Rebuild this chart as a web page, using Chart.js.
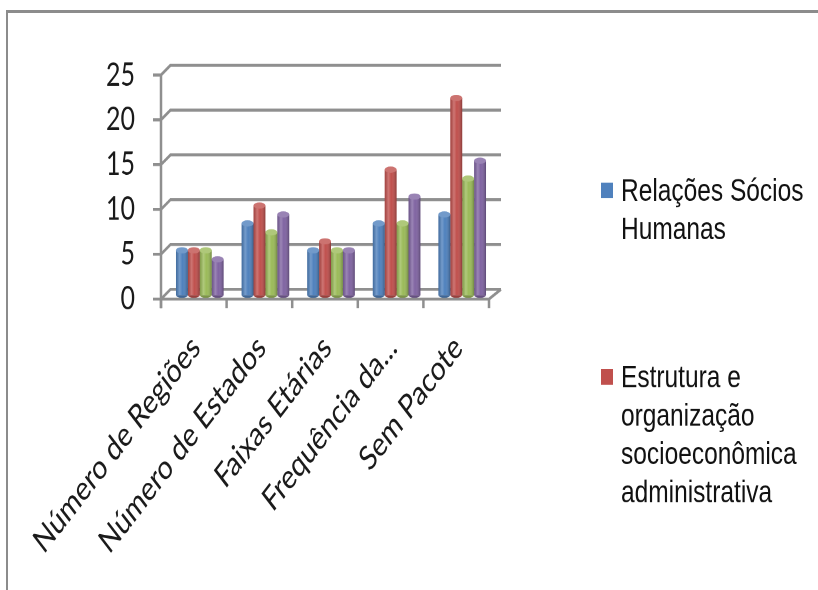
<!DOCTYPE html>
<html><head><meta charset="utf-8">
<script src="https://cdn.jsdelivr.net/npm/chart.js@4"></script>
<style>
html,body{margin:0;padding:0;background:#fff;overflow:hidden;width:818px;height:590px;}
#frame{position:absolute;left:6px;top:10px;width:900px;height:700px;border-top:3px solid #8c8c8c;border-left:2px solid #8c8c8c;}
#wrap{position:absolute;left:0;top:0;width:818px;height:454px;transform:scaleY(1.2996);transform-origin:0 0;}
</style></head><body>
<div id="frame"></div>
<div id="wrap"><canvas id="c"></canvas></div>
<script>
// ---- data ----
const categories = ['Número de Regiões', 'Número de Estados', 'Faixas Etárias', 'Frequência da...', 'Sem Pacote'];
const seriesNames = ['Relações Sócios Humanas', 'Estrutura e organização socioeconômica administrativa', 'Série 3', 'Série 4'];
const relacoesSocios = [5, 8, 5, 8, 9];
const estruturaOrganizacao = [5, 10, 6, 14, 22];
const serie3 = [5, 7, 5, 8, 13];
const serie4 = [4, 9, 5, 11, 15];
const yTicks = [0, 5, 10, 15, 20, 25];
const legendShown = 2;

// ---- styling / layout ----
const colors = ['#4F81BD', '#C0504D', '#9BBB59', '#8064A2'];
const G = { left: 161, right: 489, top: 57.7, bottom: 230.1, H: 454, W: 818,
  depthX: 9.5, depthY: -7.5, backRight: 501, barDX: 6, barDY: -3, tickLen: 8, xTickLen: 7 };

function wrapText(ctx, text, maxW) {
  const words = text.split(' '); const lines = []; let cur = '';
  words.forEach(w => {
    const t = cur ? cur + ' ' + w : w;
    if (cur && ctx.measureText(t).width > maxW) { lines.push(cur); cur = w; } else cur = t;
  });
  if (cur) lines.push(cur);
  return lines;
}

const threeD = {
  id: 'threeD',
  beforeDatasetsDraw(chart) {
    const { ctx } = chart; const y = chart.scales.y; const x = chart.scales.x;
    const L = chart.chartArea.left, R = chart.chartArea.right;
    ctx.save();
    ctx.strokeStyle = '#8f8f8f'; ctx.lineWidth = 2.3; ctx.lineJoin = 'miter';
    y.ticks.forEach(t => {
      const py = y.getPixelForValue(t.value);
      ctx.beginPath();
      ctx.moveTo(L - G.tickLen, py); ctx.lineTo(L, py);
      ctx.lineTo(L + G.depthX, py + G.depthY); ctx.lineTo(G.backRight, py + G.depthY);
      ctx.stroke();
    });
    const y0 = y.getPixelForValue(0), yTop = y.getPixelForValue(yTicks[yTicks.length - 1]);
    ctx.lineWidth = 2.5;
    ctx.beginPath(); ctx.moveTo(L, yTop); ctx.lineTo(L, y0 + G.xTickLen); ctx.stroke();
    ctx.lineWidth = 2.3;
    ctx.beginPath(); ctx.moveTo(L, y0); ctx.lineTo(R, y0); ctx.lineTo(G.backRight, y0 + G.depthY); ctx.stroke();
    ctx.lineWidth = 2.5;
    const n = categories.length;
    for (let i = 0; i <= n; i++) {
      let px;
      if (i === 0) px = L; else if (i === n) px = R;
      else px = (x.getPixelForValue(i - 1) + x.getPixelForValue(i)) / 2;
      ctx.beginPath(); ctx.moveTo(px, y0); ctx.lineTo(px, y0 + G.xTickLen); ctx.stroke();
    }
    ctx.restore();
    ctx.save(); ctx.translate(G.barDX, G.barDY);
  },
  afterDatasetsDraw(chart) {
    const { ctx } = chart;
    chart.data.datasets.forEach((ds, di) => {
      const meta = chart.getDatasetMeta(di);
      meta.data.forEach(el => {
        const p = el.getProps(['x', 'y', 'base', 'width'], true);
        const l = p.x - p.width / 2, r = p.x + p.width / 2;
        const g = ctx.createLinearGradient(l, 0, r, 0);
        g.addColorStop(0, 'rgba(0,0,0,0.15)');
        g.addColorStop(0.3, 'rgba(255,255,255,0.22)');
        g.addColorStop(0.55, 'rgba(255,255,255,0)');
        g.addColorStop(1, 'rgba(0,0,0,0.28)');
        ctx.fillStyle = g; ctx.fillRect(l, p.y, p.width, p.base - p.y);
        ctx.beginPath(); ctx.ellipse(p.x, p.base, p.width / 2, 2, 0, 0, Math.PI);
        ctx.fillStyle = ds.backgroundColor; ctx.fill();
        ctx.fillStyle = 'rgba(0,0,0,0.2)'; ctx.fill();
        ctx.beginPath(); ctx.ellipse(p.x, p.y, p.width / 2, 2.4, 0, 0, Math.PI * 2);
        ctx.fillStyle = ds.backgroundColor; ctx.fill();
        ctx.fillStyle = 'rgba(255,255,255,0.2)'; ctx.fill();
      });
    });
    ctx.restore();
  }
};

const sideLegend = {
  id: 'sideLegend',
  afterDraw(chart) {
    const ctx = chart.ctx; ctx.save();
    ctx.font = '24.5px "Liberation Sans", Arial, sans-serif';
    ctx.textBaseline = 'alphabetic'; ctx.textAlign = 'left';
    const baselines = [154.5, 298];
    for (let i = 0; i < legendShown; i++) {
      const ds = chart.data.datasets[i];
      const lines = wrapText(ctx, ds.label, 198);
      ctx.fillStyle = ds.backgroundColor;
      ctx.fillRect(601, baselines[i] - 14, 12, 12);
      ctx.fillStyle = '#111';
      lines.forEach((ln, k) => ctx.fillText(ln, 621, baselines[i] + k * 29.5));
    }
    ctx.restore();
  }
};

const seriesData = [relacoesSocios, estruturaOrganizacao, serie3, serie4];
new Chart(document.getElementById('c'), {
  type: 'bar',
  data: {
    labels: categories,
    datasets: seriesData.map((d, i) => ({
      label: seriesNames[i], data: d, backgroundColor: colors[i], borderWidth: 0,
      categoryPercentage: 0.726, barPercentage: 1.0, clip: false
    }))
  },
  options: {
    responsive: true, maintainAspectRatio: false, animation: false, devicePixelRatio: 2,
    layout: { padding: { left: 0, right: G.W - G.right, top: G.top, bottom: 0 } },
    plugins: { legend: { display: false }, tooltip: { enabled: false } },
    scales: {
      x: {
        offset: true, grid: { display: false, drawTicks: false }, border: { display: false },
        ticks: { autoSkip: false, minRotation: 45, maxRotation: 45, padding: 22, labelOffset: 2,
          font: { family: 'Lato', size: 26 }, color: '#1a1a1a' },
        afterFit(s) { s.height = G.H - G.bottom; s.paddingLeft = 0; s.paddingRight = 0; }
      },
      y: {
        min: 0, max: 25, grid: { display: false, drawTicks: false }, border: { display: false },
        ticks: { stepSize: 5, padding: 26, font: { family: 'Lato', size: 25 }, color: '#1a1a1a' },
        afterFit(s) { s.width = G.left; s.paddingTop = 0; s.paddingBottom = 0; },
        afterBuildTicks(s) { s.ticks = yTicks.map(v => ({ value: v })); }
      }
    }
  },
  plugins: [threeD, sideLegend]
});
</script>
</body></html>
